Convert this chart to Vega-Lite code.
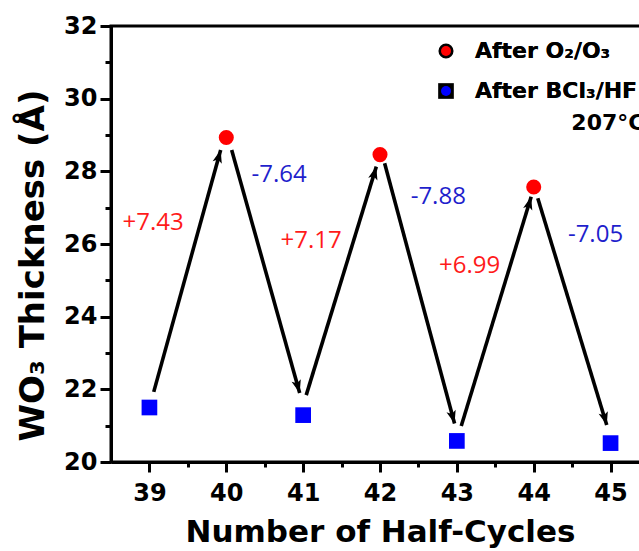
{
  "$schema": "https://vega.github.io/schema/vega-lite/v6.json",
  "width": 538,
  "height": 436,
  "autosize": {"type": "none"},
  "padding": {"left": 111, "top": 26, "right": 0, "bottom": 89},
  "background": "white",
  "config": {
    "view": {"stroke": "black", "strokeWidth": 3},
    "axis": {
      "domainColor": "black",
      "domainWidth": 3,
      "tickColor": "black",
      "tickWidth": 3,
      "grid": false,
      "labelFont": "DejaVu Sans",
      "labelFontWeight": "bold",
      "labelFontSize": 24,
      "labelColor": "black",
      "titleFont": "DejaVu Sans",
      "titleFontWeight": "bold",
      "titleColor": "black"
    },
    "legend": {
      "orient": "none", "legendX": 324, "legendY": 14, "title": null, "padding": 0,
      "labelFont": "DejaVu Sans", "labelFontWeight": "bold", "labelFontSize": 22, "labelColor": "black",
      "labelOffset": 18, "rowPadding": 18, "symbolStrokeWidth": 0, "symbolStrokeColor": "transparent", "labelLimit": 400
    }
  },
  "datasets": {
    "thickness": [
      {"cycle": 39, "thickness": 21.50, "series": "After BCl₃/HF"},
      {"cycle": 40, "thickness": 28.93, "series": "After O₂/O₃"},
      {"cycle": 41, "thickness": 21.29, "series": "After BCl₃/HF"},
      {"cycle": 42, "thickness": 28.46, "series": "After O₂/O₃"},
      {"cycle": 43, "thickness": 20.58, "series": "After BCl₃/HF"},
      {"cycle": 44, "thickness": 27.57, "series": "After O₂/O₃"},
      {"cycle": 45, "thickness": 20.52, "series": "After BCl₃/HF"}
    ],
    "arrows": [
      {"x": 39.056, "y": 21.93, "x2": 39.927, "y2": 28.59, "dir": "up"},
      {"x": 40.07, "y": 28.59, "x2": 40.955, "y2": 21.90, "dir": "down"},
      {"x": 41.04, "y": 21.84, "x2": 41.952, "y2": 28.13, "dir": "up"},
      {"x": 42.06, "y": 28.22, "x2": 42.97, "y2": 21.06, "dir": "down"},
      {"x": 43.057, "y": 20.99, "x2": 43.967, "y2": 27.30, "dir": "up"},
      {"x": 44.053, "y": 27.26, "x2": 44.95, "y2": 21.02, "dir": "down"}
    ],
    "changes": [
      {"label": "+7.43", "x": 39.049, "y": 26.385, "kind": "gain"},
      {"label": "-7.64", "x": 40.687, "y": 27.714, "kind": "loss"},
      {"label": "+7.17", "x": 41.105, "y": 25.88, "kind": "gain"},
      {"label": "-7.88", "x": 42.758, "y": 27.10, "kind": "loss"},
      {"label": "+6.99", "x": 43.165, "y": 25.20, "kind": "gain"},
      {"label": "-7.05", "x": 44.804, "y": 26.06, "kind": "loss"}
    ],
    "note": [
      {"label": "207°C", "x": 44.49, "y": 29.14}
    ]
  },
  "layer": [
    {
      "data": {"name": "arrows"},
      "mark": {"type": "rule", "strokeWidth": 3.6, "color": "black", "strokeCap": "butt"},
      "encoding": {
        "x": {
          "field": "x", "type": "quantitative",
          "scale": {"domain": [38.5, 45.5], "nice": false, "zero": false},
          "axis": {"orient": "bottom", "values": [39.5, 40.5, 41.5, 42.5, 43.5, 44.5], "labels": false, "domain": false, "tickSize": 5, "title": null}
        },
        "y": {
          "field": "y", "type": "quantitative",
          "scale": {"domain": [20, 32], "nice": false, "zero": false},
          "axis": {"orient": "left", "values": [21, 23, 25, 27, 29, 31], "labels": false, "domain": false, "tickSize": 6, "title": null}
        },
        "x2": {"field": "x2"},
        "y2": {"field": "y2"}
      }
    },
    {
      "data": {"name": "arrows"},
      "mark": {"type": "point", "filled": true, "color": "black", "opacity": 1, "size": 300, "shape": "M0,0L0.55,1.5L0,1.15L-0.55,1.5Z"},
      "encoding": {
        "x": {"field": "x2", "type": "quantitative", "axis": null},
        "y": {"field": "y2", "type": "quantitative", "axis": null},
        "angle": {"field": "dir", "type": "nominal", "scale": {"domain": ["up", "down"], "range": [15.5, 164.4]}, "legend": null}
      }
    },
    {
      "data": {"name": "thickness"},
      "mark": {"type": "point", "filled": true, "opacity": 1, "strokeWidth": 0},
      "encoding": {
        "x": {
          "field": "cycle", "type": "quantitative",
          "axis": {"orient": "bottom", "values": [39, 40, 41, 42, 43, 44, 45], "tickSize": 10, "labelPadding": 28, "labelBaseline": "alphabetic",
                   "title": "Number of Half-Cycles", "titleFontSize": 31, "titleBaseline": "alphabetic", "titleY": 79}
        },
        "y": {
          "field": "thickness", "type": "quantitative",
          "axis": {"orient": "left", "values": [20, 22, 24, 26, 28, 30, 32], "tickSize": 11, "labelPadding": 3,
                   "title": "WO₃ Thickness (Å)", "titleFontSize": 34, "titleBaseline": "alphabetic", "titleAngle": -90, "titleAlign": "center", "titleX": -68, "titleY": 239}
        },
        "color": {
          "field": "series", "type": "nominal",
          "scale": {"domain": ["After O₂/O₃", "After BCl₃/HF"], "range": ["#ff0000", "#0000ff"]},
          "legend": {"symbolStrokeWidth": 0, "symbolStrokeColor": "transparent"}
        },
        "shape": {
          "field": "series", "type": "nominal",
          "scale": {"domain": ["After O₂/O₃", "After BCl₃/HF"], "range": ["circle", "square"]},
          "legend": {"symbolStrokeWidth": 0, "symbolStrokeColor": "transparent"}
        },
        "size": {
          "field": "series", "type": "nominal",
          "scale": {"domain": ["After O₂/O₃", "After BCl₃/HF"], "range": [227, 246]},
          "legend": {"symbolStrokeWidth": 0, "symbolStrokeColor": "transparent"}
        }
      }
    },
    {
      "data": {"name": "changes"},
      "mark": {"type": "text", "font": "Open Sans", "fontSize": 24, "align": "center", "baseline": "alphabetic"},
      "encoding": {
        "x": {"field": "x", "type": "quantitative", "axis": null},
        "y": {"field": "y", "type": "quantitative", "axis": null},
        "text": {"field": "label"},
        "color": {"field": "kind", "type": "nominal", "scale": {"domain": ["gain", "loss"], "range": ["#ff1a1a", "#1f1fcc"]}, "legend": null}
      }
    },
    {
      "data": {"name": "note"},
      "mark": {"type": "text", "font": "DejaVu Sans", "fontWeight": "bold", "fontSize": 22, "align": "left", "baseline": "alphabetic", "color": "black"},
      "encoding": {
        "x": {"field": "x", "type": "quantitative", "axis": null},
        "y": {"field": "y", "type": "quantitative", "axis": null},
        "text": {"field": "label"}
      }
    }
  ],
  "resolve": {"axis": {"x": "independent", "y": "independent"}, "scale": {"color": "independent"}}
}
